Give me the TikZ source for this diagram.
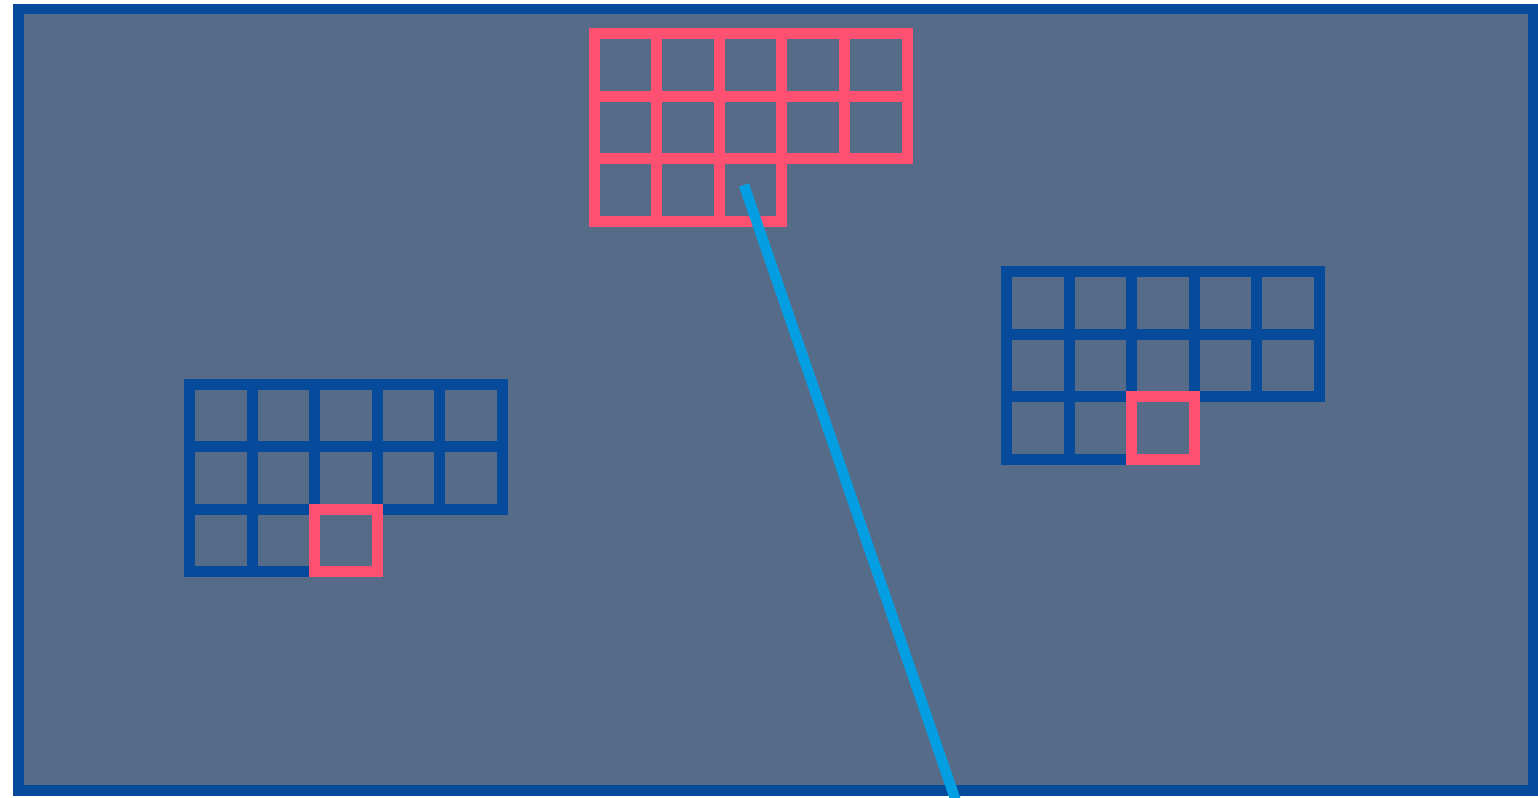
\documentclass[tikz,border=0pt]{standalone}
\usepackage{tikz}

\definecolor{slate}{HTML}{566B88}
\definecolor{frameblue}{HTML}{064B9B}
\definecolor{rosered}{HTML}{FE5070}
\definecolor{skyline}{HTML}{049FE3}

\begin{document}
\begin{tikzpicture}[
    x=0.5pt, y=-0.5pt,
    board/.style={draw=frameblue, fill=slate, line width=5.25pt},
    bluecell/.style={draw=frameblue, line width=5.5pt, minimum size=31.3pt, inner sep=0pt, outer sep=0pt},
    redcell/.style={bluecell, draw=rosered},
    beam/.style={draw=skyline, line width=5.2pt}
]
\useasboundingbox (0,0) rectangle (1538,798);

% board
\draw[board] (18.5,9) rectangle (1533,790.5);

% top grid, all red
\begin{scope}[shift={(594,33.5)}]
\foreach \r in {1,2}
  \foreach \c in {1,...,5}
    \node[redcell] (top-\r-\c) at ({(\c-0.5)*62.6},{(\r-0.5)*62.6}) {};
\foreach \c in {1,2,3}
  \node[redcell] (top-3-\c) at ({(\c-0.5)*62.6},{2.5*62.6}) {};
\end{scope}

% left grid
\begin{scope}[shift={(189.5,384)}]
\foreach \r in {1,2}
  \foreach \c in {1,...,5}
    \node[bluecell] (left-\r-\c) at ({(\c-0.5)*62.6},{(\r-0.5)*62.6}) {};
\foreach \c in {1,2}
  \node[bluecell] (left-3-\c) at ({(\c-0.5)*62.6},{2.5*62.6}) {};
\node[redcell] (left-3-3) at ({2.5*62.6},{2.5*62.6}) {};
\end{scope}

% right grid
\begin{scope}[shift={(1006.5,271.5)}]
\foreach \r in {1,2}
  \foreach \c in {1,...,5}
    \node[bluecell] (right-\r-\c) at ({(\c-0.5)*62.6},{(\r-0.5)*62.6}) {};
\foreach \c in {1,2}
  \node[bluecell] (right-3-\c) at ({(\c-0.5)*62.6},{2.5*62.6}) {};
\node[redcell] (right-3-3) at ({2.5*62.6},{2.5*62.6}) {};
\end{scope}

% pointer line
\coordinate (beamstart) at (744,185);
\coordinate (beamend) at (959,810);
\draw[beam] (beamstart) -- (beamend);
\end{tikzpicture}
\end{document}
